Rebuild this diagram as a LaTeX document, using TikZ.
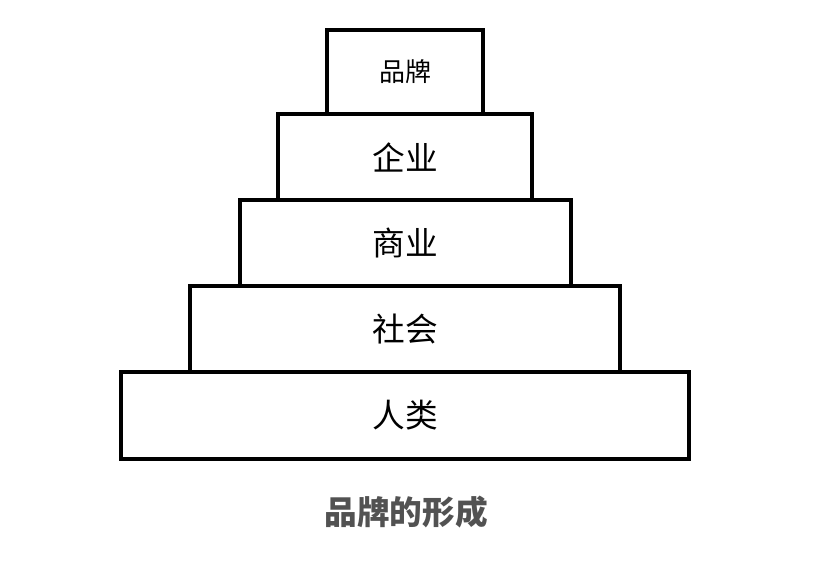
\documentclass[tikz,border=0pt]{standalone}
\usepackage{fontspec}
\newfontfamily\cjk{Noto Sans CJK SC}
\tikzset{layer/.style={draw=black, line width=3.2pt, rectangle, inner sep=0pt, font=\cjk\fontsize{24.5}{24.5}\selectfont},
         title/.style={text=black!68, inner sep=0pt, font=\cjk\bfseries\fontsize{24.5}{24.5}\selectfont}}
\begin{document}
\begin{tikzpicture}[x=0.75pt,y=-0.75pt]
  \useasboundingbox (0,0) rectangle (824,561);
  \begin{scope}
   \node[layer, minimum width=426pt,   minimum height=65.25pt] (renlei)  at (405,415.5) {人类};
   \node[layer, minimum width=322.5pt, minimum height=64.5pt]  (shehui)  at (405,329)   {社会};
   \node[layer, minimum width=248.25pt,minimum height=64.5pt]  (shangye) at (405.5,243) {商业};
   \node[layer, minimum width=190.5pt, minimum height=64.5pt]  (qiye)    at (405,157)   {企业};
   \node[layer, minimum width=117pt,   minimum height=63pt, font=\cjk\fontsize{19.5}{19.5}\selectfont] (pinpai) at (405,72) {品牌};
  \end{scope}
  \node[title] (caption) at (406,512) {品牌的形成};
\end{tikzpicture}
\end{document}
